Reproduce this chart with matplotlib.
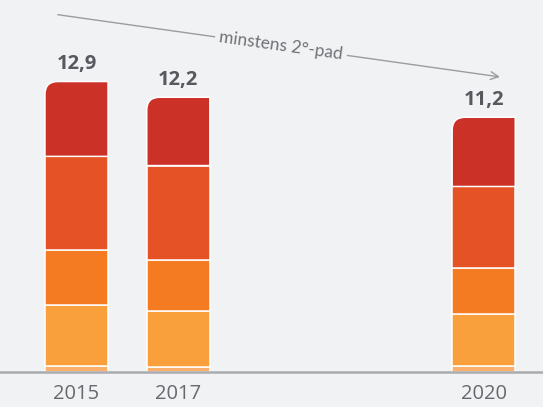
import numpy as np
import matplotlib
matplotlib.use("Agg")
import matplotlib.pyplot as plt
from matplotlib.path import Path
from matplotlib.patches import PathPatch

# data
years = ["2015", "2017", "2020"]
slots = [0, 1, 4]          # 2018 and 2019 left empty
totals = [12.9, 12.2, 11.2]
lightest = [0.24, 0.22, 0.25]
light = [2.70, 2.45, 2.30]
orange = [2.45, 2.30, 2.06]
redorange = [4.18, 4.19, 3.62]
red = [3.33, 3.04, 3.08]
series = [lightest, light, orange, redorange, red]
colors = ["#fab06a", "#f9a03c", "#f47b21", "#e45226", "#cc3128"]
arrow_label = "minstens 2°-pad"

bg = "#f1f2f4"
W, H = 543, 407
fig = plt.figure(figsize=(W / 100, H / 100), dpi=100, facecolor=bg)
base_px = 371.5
ax = fig.add_axes([0, (H - base_px) / H, 1, base_px / H])
ax.set_facecolor(bg)

px_x = 101.8   # pixels per slot
px_y = 22.48   # pixels per unit
ax.set_xlim(-76.5 / px_x, (W - 76.5) / px_x)
ax.set_ylim(0, base_px / px_y)

bottom = np.zeros(len(years))
tops = []
for vals, c in zip(series, colors):
    bars = ax.bar(slots, vals, width=0.62, bottom=bottom, color=c,
                  edgecolor="white", linewidth=1.1)
    bottom += np.array(vals)
    tops = bars

# rounded top-left corner on the top segment
rx = 13 / px_x
ry = 13 / px_y
for b in tops:
    x0, y0 = b.get_x(), b.get_y()
    x1, y1 = x0 + b.get_width(), y0 + b.get_height()
    verts = [(x0, y0), (x1, y0), (x1, y1), (x0 + rx, y1), (x0, y1),
             (x0, y1 - ry), (x0, y0)]
    codes = [Path.MOVETO, Path.LINETO, Path.LINETO, Path.LINETO,
             Path.CURVE3, Path.CURVE3, Path.CLOSEPOLY]
    p = PathPatch(Path(verts, codes), facecolor=b.get_facecolor(),
                  edgecolor="white", linewidth=1.1)
    b.set_visible(False)
    ax.add_patch(p)

for s, top, t in zip(slots, bottom, totals):
    ax.annotate(f"{t:.1f}".replace(".", ","), (s, top), xytext=(0, 9),
                textcoords="offset points", ha="center", va="baseline",
                fontsize=14.5, fontweight="bold", color="#56595d",
                family="Open Sans")

# arrow for the 2-degree path
x_a = (55 - 76.5) / px_x
y_a = (base_px - 14.3) / px_y
x_b = (502.7 - 76.5) / px_x
y_b = (base_px - 77.3) / px_y
ax.annotate("", xy=(x_b, y_b), xytext=(x_a, y_a),
            arrowprops=dict(arrowstyle="->", color="#9a9ca0", lw=1.0,
                            mutation_scale=14), zorder=3)
xm = (281 - 76.5) / px_x
ym = (base_px - 46.0) / px_y
ax.text(xm, ym, arrow_label, rotation=-8, rotation_mode="anchor",
        ha="center", va="center", fontsize=12.5, color="#6f7276",
        family="Lato", zorder=4,
        bbox=dict(facecolor=bg, edgecolor="none", pad=3))

for side in ["top", "right", "left"]:
    ax.spines[side].set_visible(False)
ax.spines["bottom"].set_color("#a9abae")
ax.spines["bottom"].set_linewidth(1.8)
ax.set_yticks([])
ax.set_xticks(slots)
ax.set_xticklabels(years, fontsize=14.5, color="#66696d", family="Open Sans")
ax.tick_params(axis="x", length=0, pad=9)

fig.savefig("out.png", dpi=100, facecolor=bg)
